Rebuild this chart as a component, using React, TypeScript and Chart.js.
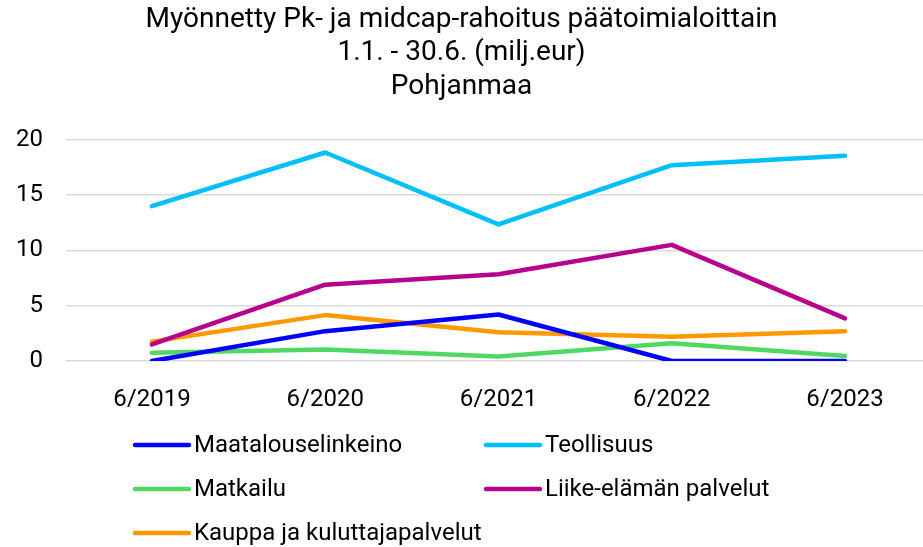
import React, { useEffect, useRef } from "react";
import { Chart, registerables } from "chart.js";

Chart.register(...registerables);

const categories = ["6/2019", "6/2020", "6/2021", "6/2022", "6/2023"];
const titleLines = [
  "Myönnetty Pk- ja midcap-rahoitus päätoimialoittain",
  "1.1. - 30.6. (milj.eur)",
  "Pohjanmaa",
];
const maatalous = [0, 2.7, 4.2, 0, 0];
const teollisuus = [14.0, 18.85, 12.35, 17.7, 18.55];
const matkailu = [0.75, 1.05, 0.4, 1.6, 0.45];
const liike = [1.5, 6.9, 7.85, 10.5, 3.85];
const kauppa = [1.75, 4.15, 2.6, 2.2, 2.7];
const seriesNames = [
  "Maatalouselinkeino",
  "Teollisuus",
  "Matkailu",
  "Liike-elämän palvelut",
  "Kauppa ja kuluttajapalvelut",
];
const seriesColors = ["#0000FF", "#00BFFF", "#4FD964", "#B8008F", "#FF9900"];
const yTicks = [0, 5, 10, 15, 20];

const FONT = "Roboto, 'Noto Sans', sans-serif";

const legendPlugin = {
  id: "gridLegend",
  afterDraw(chart: any) {
    const ctx = chart.ctx;
    const datasets = chart.data.datasets;
    const colX = [135, 486];
    const rowY = [445, 489, 533];
    ctx.save();
    ctx.font = `24px ${FONT}`;
    ctx.textBaseline = "middle";
    ctx.textAlign = "left";
    datasets.forEach((ds: any, i: number) => {
      const col = i % 2;
      const row = Math.floor(i / 2);
      const x = colX[col];
      const y = rowY[row];
      ctx.strokeStyle = ds.borderColor;
      ctx.lineWidth = 4.5;
      ctx.lineCap = "round";
      ctx.beginPath();
      ctx.moveTo(x, y);
      ctx.lineTo(x + 54, y);
      ctx.stroke();
      ctx.fillStyle = "#000";
      ctx.fillText(ds.label, x + 59, y + 1);
    });
    ctx.restore();
  },
};

export default function App() {
  const ref = useRef<HTMLCanvasElement>(null);
  useEffect(() => {
    document.body.style.margin = "0";
    const seriesData = [maatalous, teollisuus, matkailu, liike, kauppa];
    const chart = new Chart(ref.current!, {
      type: "line",
      data: {
        datasets: seriesData.map((vals, i) => ({
          label: seriesNames[i],
          data: vals.map((v, j) => ({ x: j, y: v })),
          borderColor: seriesColors[i],
          backgroundColor: seriesColors[i],
          borderWidth: 4.5,
          borderCapStyle: "round",
          borderJoinStyle: "round",
          pointRadius: 0,
          tension: 0,
          fill: false,
        })),
      },
      options: {
        animation: false,
        responsive: false,
        devicePixelRatio: 1,
        layout: { padding: { left: 0, right: 0, top: 0, bottom: 140 } },
        plugins: {
          legend: { display: false },
          tooltip: { enabled: false },
          title: {
            display: true,
            text: titleLines,
            color: "#000",
            font: { family: FONT, size: 28, weight: "normal", lineHeight: 1.2 },
            padding: { top: 3, bottom: 36 },
          },
        },
        scales: {
          x: {
            type: "linear",
            min: -0.496,
            max: 4.45,
            grid: { display: false },
            border: { display: false },
            afterBuildTicks: (scale: any) => {
              scale.ticks = categories.map((_, i) => ({ value: i }));
            },
            afterFit: (scale: any) => {
              scale.height = 46;
            },
            ticks: {
              color: "#000",
              font: { family: FONT, size: 24 },
              padding: 17,
              maxRotation: 0,
              autoSkip: false,
              callback: (v: any) => categories[v] ?? "",
            },
          },
          y: {
            min: 0,
            max: 20,
            afterBuildTicks: (scale: any) => {
              scale.ticks = yTicks.map((v) => ({ value: v }));
            },
            afterFit: (scale: any) => {
              scale.width = 66;
            },
            grid: { color: "#D9D9D9", lineWidth: 1.5, drawTicks: false },
            border: { display: false },
            ticks: {
              color: "#000",
              font: { family: FONT, size: 24 },
              padding: 23,
            },
          },
        },
      },
      plugins: [legendPlugin],
    });
    return () => chart.destroy();
  }, []);
  return (
    <div style={{ position: "absolute", left: 0, top: 0, width: 923, height: 547, background: "#fff" }}>
      <canvas ref={ref} width={923} height={547} />
    </div>
  );
}
